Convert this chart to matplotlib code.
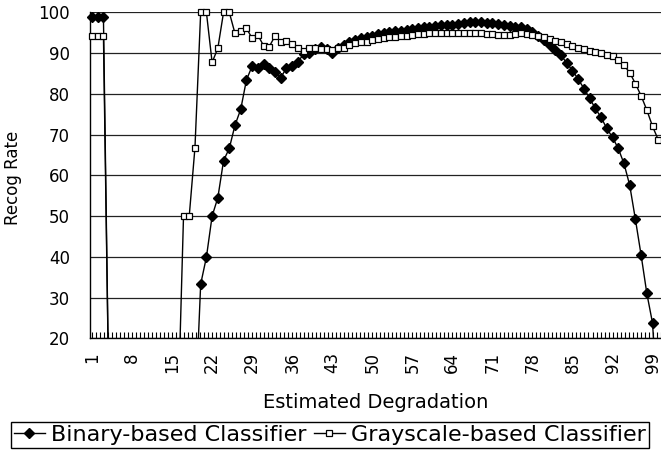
import numpy as np
import matplotlib
matplotlib.use('Agg')
import matplotlib.pyplot as plt
from matplotlib.lines import Line2D

# Estimated degradation categories and recognition rates (values < 20 fall below the axis)
categories = list(range(1, 101))
binary = [98.8, 98.8, 98.8,
          0, 0, 0, 0, 0, 0, 0, 0, 0, 0, 0, 0, 0, 0, 0, 0,
          33.3, 39.9, 50.0, 54.5, 63.6, 66.6, 72.3, 76.2, 83.4, 86.8,
          86.3, 87.3, 86.3, 85.4, 84.0, 86.3, 86.9, 87.9, 89.7, 90.1,
          90.9, 91.5, 91.0, 90.0, 91.3, 92.0, 92.6, 93.2, 93.6, 94.0,
          94.3, 94.6, 94.9, 95.1, 95.3, 95.5, 95.7, 95.9, 96.1, 96.3,
          96.5, 96.6, 96.8, 96.9, 97.0, 97.2, 97.4, 97.5, 97.6, 97.6,
          97.4, 97.3, 97.1, 96.9, 96.7, 96.5, 96.3, 95.8, 95.2, 94.3,
          93.2, 92.0, 90.7, 89.5, 87.5, 85.7, 83.6, 81.3, 78.9, 76.4,
          74.2, 71.5, 69.3, 66.6, 62.9, 57.6, 49.2, 40.4, 31.0, 23.7,
          0]
grayscale = [94.3, 94.3, 94.3,
             0, 0, 0, 0, 0, 0, 0, 0, 0, 0, 0, 0, 0,
             50.0, 50.0, 66.8, 100, 100, 87.7, 91.2, 100, 100, 94.8,
             95.4, 96.1, 93.6, 94.4, 91.8, 91.6, 94.2, 92.8, 93.0, 92.1,
             91.2, 90.6, 91.2, 91.3, 91.1, 91.0, 90.8, 91.3, 91.3, 92.0,
             92.4, 92.7, 92.8, 93.1, 93.4, 93.7, 93.9, 94.0, 94.1, 94.2,
             94.4, 94.6, 94.7, 94.8, 94.8, 94.8, 94.8, 94.8, 94.9, 94.9,
             94.9, 94.9, 94.8, 94.7, 94.6, 94.5, 94.4, 94.4, 94.6, 94.8,
             94.7, 94.5, 94.3, 93.9, 93.4, 93.0, 92.6, 92.2, 91.8, 91.3,
             90.9, 90.5, 90.2, 89.9, 89.6, 89.2, 88.4, 87.0, 85.2, 82.5,
             79.5, 76.0, 72.0, 68.7]
xtick_labels = [1, 8, 15, 22, 29, 36, 43, 50, 57, 64, 71, 78, 85, 92, 99]
yticks = [20, 30, 40, 50, 60, 70, 80, 90, 100]

plt.rcParams['font.family'] = ['DejaVu Sans']
plt.rcParams['font.size'] = 12

fig = plt.figure(figsize=(6.61, 4.55), dpi=100)
W, H = 661, 455
ax = fig.add_axes([90 / W, 1 - 338.3 / H, 573 / W, (338.3 - 12.3) / H])

x = np.array(categories)
b = np.array(binary, dtype=float)
g = np.array(grayscale, dtype=float)

# lines (clipped at the axis like the original)
ax.plot(x, b, color='black', lw=1.0, zorder=3)
ax.plot(x, g, color='black', lw=1.0, zorder=3)
# markers only for points inside the visible range
ax.plot(x, np.where(b >= 20, b, np.nan), ls='none', marker='D', ms=5,
        mfc='black', mec='black', clip_on=False, zorder=4)
ax.plot(x, np.where(g >= 20, g, np.nan), ls='none', marker='s', ms=5,
        mfc='white', mec='black', mew=0.9, clip_on=False, zorder=5)

ax.set_xlim(1 - 2 / 5.72, 1 + (663 - 92) / 5.72)
ax.set_ylim(20, 100)
ax.set_yticks(yticks)
ax.set_xticks(xtick_labels)
ax.set_xticklabels([str(v) for v in xtick_labels], rotation=90)
ax.set_xticks(np.arange(1, 101, 0.7), minor=True)
ax.tick_params(axis='x', which='both', direction='in', length=4, width=0.8, pad=10)
ax.tick_params(axis='y', length=0, pad=14.4)
ax.grid(axis='y', color='#222222', lw=0.9)
ax.set_axisbelow(True)
for s in ['top', 'right']:
    ax.spines[s].set_visible(False)
for s in ['left', 'bottom']:
    ax.spines[s].set_color('black')
    ax.spines[s].set_linewidth(1.0)

fig.text(13 / W, 1 - 178 / H, 'Recog Rate', rotation=90, ha='center', va='center')
fig.text(376 / W, 1 - 402 / H, 'Estimated Degradation', ha='center', va='center',
         fontsize=14)

handles = [Line2D([], [], color='black', lw=1.0, marker='D', ms=5, mfc='black'),
           Line2D([], [], color='black', lw=1.0, marker='s', ms=5, mfc='white', mew=0.9)]
leg = fig.legend(handles, ['Binary-based Classifier', 'Grayscale-based Classifier'],
                 loc='center', bbox_to_anchor=(330 / W, 1 - 435 / H), ncol=2,
                 frameon=True, fancybox=False, edgecolor='black', framealpha=1,
                 fontsize=16, borderpad=0.12, borderaxespad=0,
                 handlelength=1.4, handletextpad=0.3, columnspacing=0.3)
leg.get_frame().set_linewidth(1.0)

fig.savefig('out.png', dpi=100)
